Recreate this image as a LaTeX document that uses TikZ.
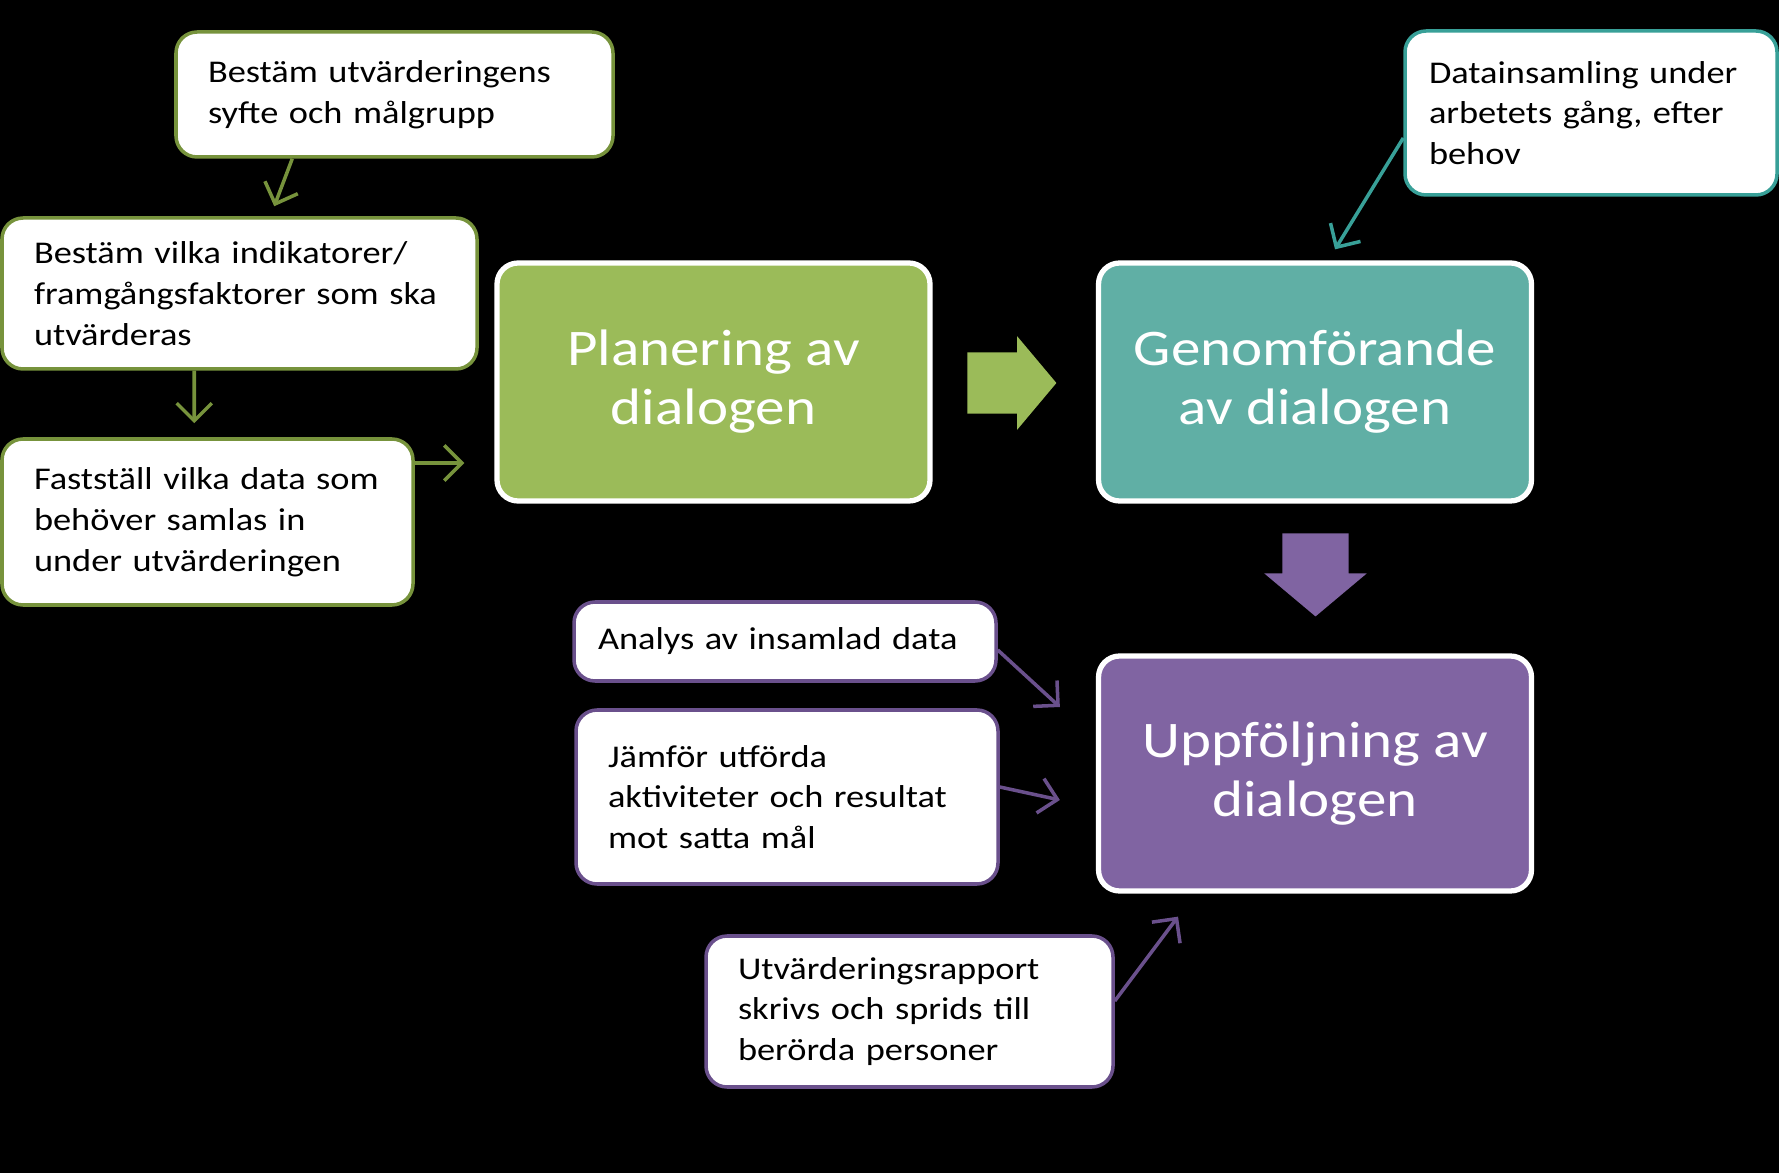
\documentclass[tikz,border=0pt]{standalone}
\usepackage{fontspec}
\setmainfont{Carlito}[FakeStretch=1.15]
\usetikzlibrary{shapes.arrows, arrows.meta, positioning, calc}
\definecolor{planGreen}{RGB}{155,187,89}
\definecolor{lineGreen}{RGB}{119,147,60}
\definecolor{genomTeal}{RGB}{96,175,165}
\definecolor{lineTeal}{RGB}{56,160,152}
\definecolor{uppfPurple}{RGB}{128,100,162}
\definecolor{linePurple}{RGB}{106,80,140}

\begin{document}
\begin{tikzpicture}[
    phase/.style={draw=white, line width=1.5pt, rounded corners=6pt, minimum width=4.33cm, minimum height=2.38cm, align=center, text=white, font=\fontsize{14.6}{16.8}\selectfont},
    note/.style={fill=white, line width=1pt, rounded corners=6pt, align=left, inner xsep=0.32cm, inner ysep=0pt, font=\fontsize{9}{11.6}\selectfont},
    link/.style={-{Straight Barb[length=5pt,width=10pt]}, line width=1pt},
    bigarrow/.style={single arrow, draw=none, inner xsep=0pt, single arrow tip angle=100}
  ]
    % Background
    \fill[black] (0,0) rectangle (17.79,-11.73);
    \useasboundingbox (0,0) rectangle (17.79,-11.73);
    % Main phases
    \node[phase, fill=planGreen] (plan) at (7.135,-3.82) {Planering av\\dialogen};
    \node[phase, fill=genomTeal] (genom) at (13.15,-3.82) {Genomförande\\av dialogen};
    \node[phase, fill=uppfPurple, minimum height=2.35cm] (uppf) at (13.15,-7.735) {Uppföljning av\\dialogen};
    % Block arrows between phases
    \node[bigarrow, fill=planGreen, minimum height=0.89cm, inner ysep=0.30cm, single arrow head extend=0.16cm] (planToGenom) at (9.99,-3.83) {};
    \node[bigarrow, fill=uppfPurple, minimum height=0.83cm, inner ysep=0.325cm, single arrow head extend=0.18cm, rotate=-90] (genomToUppf) at (13.155,-5.61) {};
    % Planning notes
    \node[note, draw=lineGreen, text width=3.73cm, minimum height=1.25cm] (syfte) at (3.945,-0.945) {Bestäm utvärderingens\\syfte och målgrupp};
    \node[note, draw=lineGreen, text width=4.11cm, minimum height=1.51cm] (indik) at (2.395,-2.935) {Bestäm vilka indikatorer/\\framgångsfaktorer som ska\\utvärderas};
    \node[note, draw=lineGreen, text width=3.47cm, minimum height=1.66cm] (fast) at (2.075,-5.22) {Fastställ vilka data som\\behöver samlas in\\under utvärderingen};
    % Implementation note
    \node[note, draw=lineTeal, text width=3.24cm, inner xsep=0.24cm, minimum height=1.64cm] (datain) at (15.91,-1.13) {Datainsamling under\\arbetets gång, efter\\behov};
    % Follow-up notes
    \node[note, draw=linePurple, text width=3.74cm, inner xsep=0.24cm, minimum height=0.79cm] (analys) at (7.85,-6.415) {Analys av insamlad data};
    \node[note, draw=linePurple, text width=3.58cm, minimum height=1.74cm] (jamfor) at (7.87,-7.97) {Jämför utförda\\aktiviteter och resultat\\mot satta mål};
    \node[note, draw=linePurple, text width=3.43cm, minimum height=1.51cm] (rapport) at (9.095,-10.115) {Utvärderingsrapport\\skrivs och sprids till\\berörda personer};
    % Arrows
    \draw[link, lineGreen] ([xshift=1.18cm]syfte.south west) -- ([xshift=2.74cm, yshift=0.1cm]indik.north west);
    \draw[link, lineGreen] ([xshift=1.94cm]indik.south west) -- ([xshift=1.94cm, yshift=0.14cm]fast.north west);
    \draw[link, lineGreen] ([yshift=0.59cm]fast.east) -- ([xshift=-0.3cm, yshift=-0.81cm]plan.west);
    \draw[link, lineTeal] ([yshift=-0.25cm]datain.west) -- ([xshift=0.2cm, yshift=0.11cm]genom.north);
    \draw[link, linePurple] ([yshift=-0.085cm]analys.east) -- ([xshift=-0.36cm, yshift=0.665cm]uppf.west);
    \draw[link, linePurple] ([yshift=0.1cm]jamfor.east) -- ([xshift=-0.36cm, yshift=-0.265cm]uppf.west);
    \draw[link, linePurple] ([yshift=0.105cm]rapport.east) -- ([xshift=-1.37cm, yshift=-0.23cm]uppf.south);
\end{tikzpicture}
\end{document}
